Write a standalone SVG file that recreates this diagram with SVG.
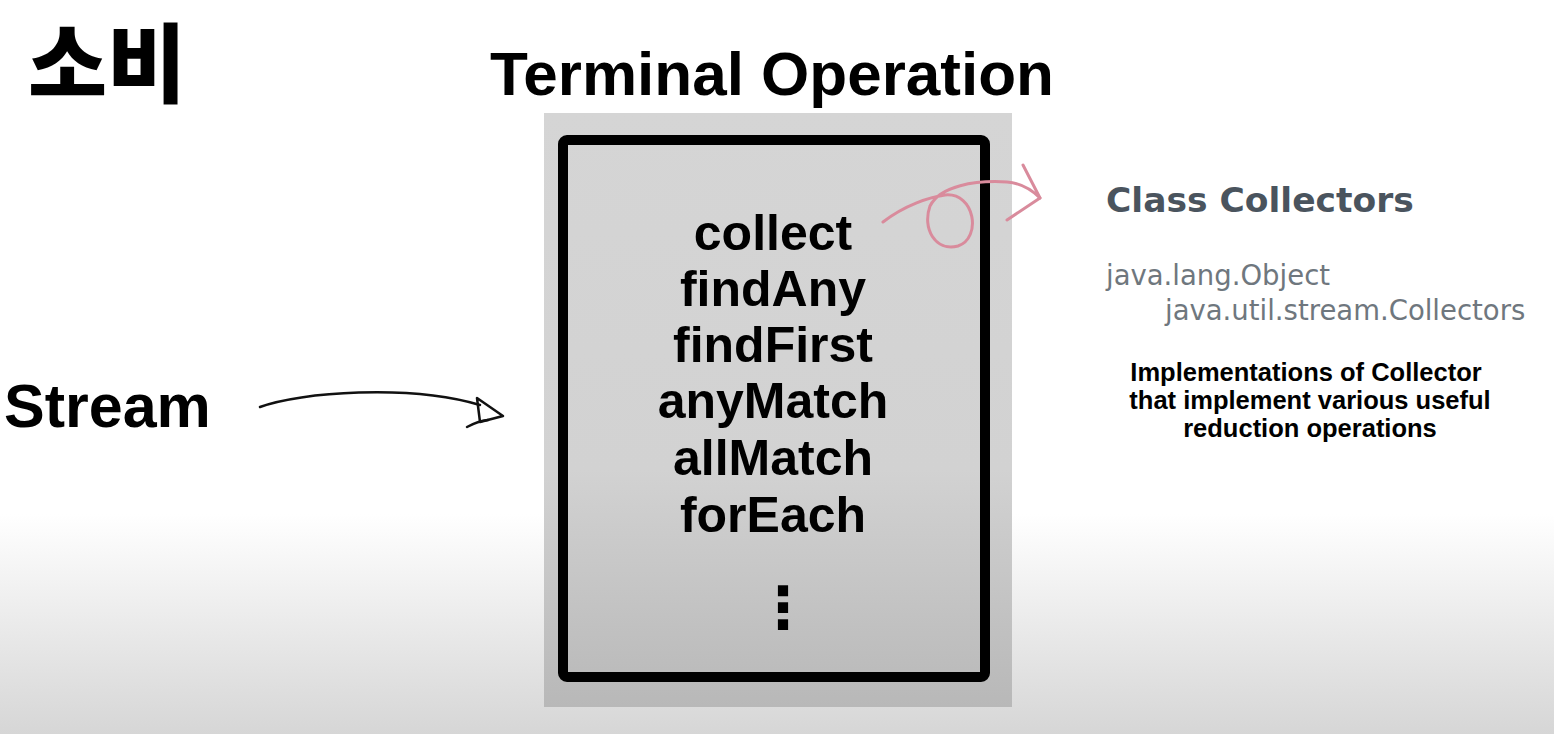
<svg xmlns="http://www.w3.org/2000/svg" width="1554" height="734" viewBox="0 0 1554 734">
<defs>
<linearGradient id="bg" x1="0" y1="0" x2="0" y2="734" gradientUnits="userSpaceOnUse">
<stop offset="0" stop-color="#ffffff"/>
<stop offset="0.7" stop-color="#ffffff"/>
<stop offset="1" stop-color="#d6d6d6"/>
</linearGradient>
<linearGradient id="box" x1="0" y1="113" x2="0" y2="707" gradientUnits="userSpaceOnUse">
<stop offset="0" stop-color="#d5d5d5"/>
<stop offset="0.6" stop-color="#d2d2d2"/>
<stop offset="1" stop-color="#b8b8b8"/>
</linearGradient>
</defs>
<style>
.op{font-family:"Liberation Sans",Arial,sans-serif;font-weight:bold;font-size:50px;fill:#000;text-anchor:middle}
.desc{font-family:"Liberation Sans",Arial,sans-serif;font-weight:bold;font-size:25.5px;fill:#000;text-anchor:middle}
.pkg{font-family:"DejaVu Sans",sans-serif;font-size:27.5px;fill:#6f777e}
.ink{fill:none;stroke:#111;stroke-width:2.5;stroke-linecap:round;stroke-linejoin:round}
.pink{fill:none;stroke:#d98b9c;stroke-width:3;stroke-linecap:round;stroke-linejoin:round}
</style>
<rect x="0" y="0" width="1554" height="734" fill="url(#bg)"/>

<g id="title-korean">
<text x="28" y="96" font-family="'Noto Sans CJK KR','Noto Sans',sans-serif" font-weight="900" font-size="86" fill="#000">소비</text>
</g>

<g id="title">
<text x="772" y="95" font-family="'Liberation Sans',Arial,sans-serif" font-weight="bold" font-size="62" text-anchor="middle" fill="#000">Terminal Operation</text>
</g>

<g id="stream">
<text x="4" y="427" font-family="'Liberation Sans',Arial,sans-serif" font-weight="bold" font-size="61" fill="#000">Stream</text>
</g>

<g id="terminal-ops">
<rect x="544" y="113" width="468" height="594" fill="url(#box)"/>
<rect x="563" y="140" width="422" height="537" rx="4" fill="none" stroke="#000" stroke-width="10"/>
<text class="op" x="773" y="250">collect</text>
<text class="op" x="773" y="306">findAny</text>
<text class="op" x="773" y="362">findFirst</text>
<text class="op" x="773" y="418">anyMatch</text>
<text class="op" x="773" y="475">allMatch</text>
<text class="op" x="773" y="532">forEach</text>
<text x="783" y="628" font-family="'DejaVu Sans',sans-serif" font-weight="bold" font-size="58" text-anchor="middle" fill="#000">⋮</text>
</g>

<g id="collectors">
<text x="1106" y="212" font-family="'DejaVu Sans',sans-serif" font-weight="bold" font-size="34.5" fill="#4a545e">Class Collectors</text>
<text class="pkg" x="1106" y="285">java.lang.Object</text>
<text class="pkg" x="1165" y="320">java.util.stream.Collectors</text>
<text class="desc" x="1306" y="381">Implementations of Collector</text>
<text class="desc" x="1310" y="409">that implement various useful</text>
<text class="desc" x="1310" y="437">reduction operations</text>
</g>

<g id="connectors">
<path class="ink" d="M260 407 C300 392 410 384 480 405"/>
<path class="ink" d="M477 398 L480 422 L503 416 Z"/>
<path class="ink" d="M467 427 Q478 421 488 420"/>
<path class="pink" d="M883 222 C905 205 930 197 945 195 C975 192 982 238 958 246 C935 252 922 228 930 206 C940 186 975 180 1007 182 C1020 183 1032 190 1040 198"/>
<path class="pink" d="M1023 165 L1040 198 L1007 220"/>
</g>
</svg>
